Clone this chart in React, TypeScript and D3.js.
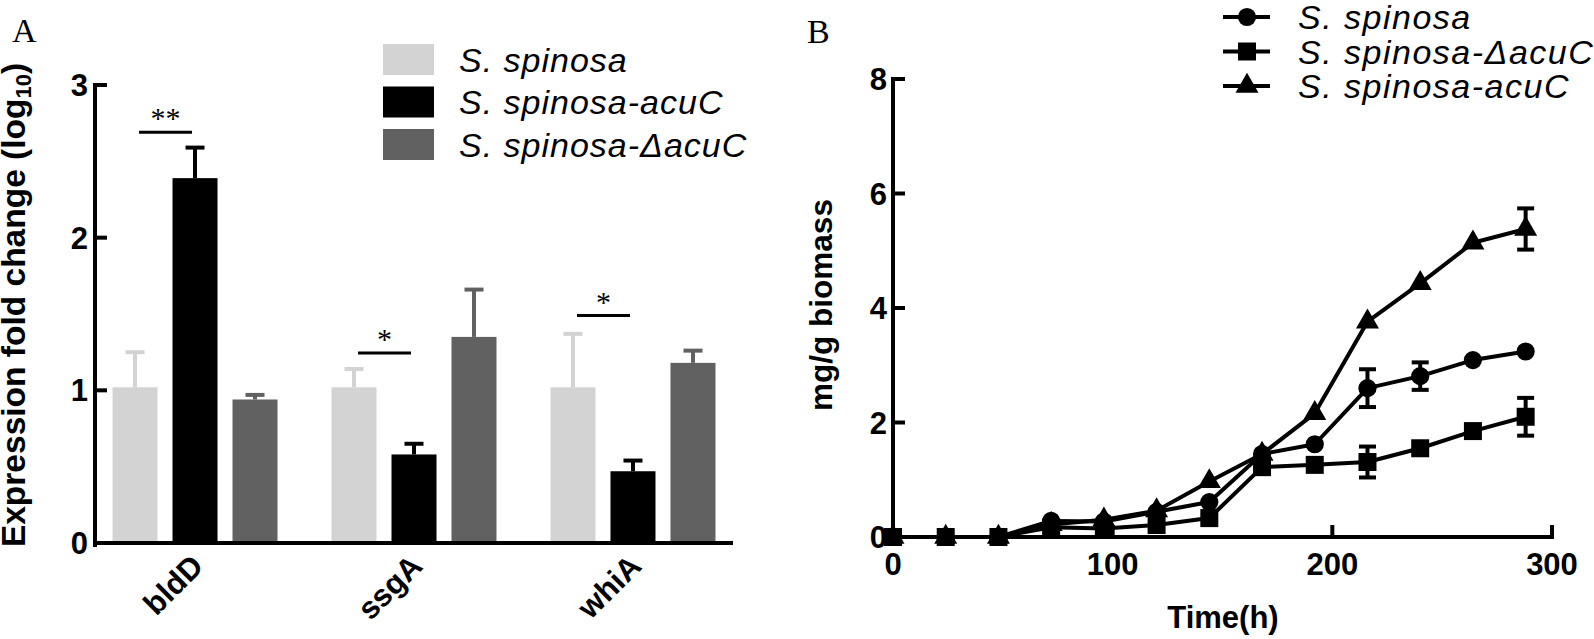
import React from 'react';
import * as d3 from 'd3';

// ---------- Panel A data ----------
const genes = ['bldD', 'ssgA', 'whiA'];
const barSeries = ['S. spinosa', 'S. spinosa-acuC', 'S. spinosa-ΔacuC'];
const barColors = ['#d3d3d3', '#000000', '#616161'];
const wtExpr = [1.02, 1.02, 1.02];
const wtExprErr = [0.23, 0.12, 0.35];
const acuCExpr = [2.39, 0.58, 0.47];
const acuCExprErr = [0.2, 0.07, 0.07];
const dAcuCExpr = [0.94, 1.35, 1.18];
const dAcuCExprErr = [0.03, 0.31, 0.08];
const sigLabels = ['**', '*', '*'];
const sigLevels = [2.69, 1.245, 1.49];
const yTicksA = [0, 1, 2, 3];

// ---------- Panel B data ----------
const timeH = [0, 24, 48, 72, 96, 120, 144, 168, 192, 216, 240, 264, 288];
const wtProd = [0, 0, 0, 0.28, 0.27, 0.44, 0.61, 1.45, 1.62, 2.6, 2.81, 3.09, 3.24];
const wtProdErr = [0, 0, 0, 0.04, 0.04, 0.05, 0.05, 0.05, 0.05, 0.33, 0.24, 0.06, 0.05];
const dProd = [0, 0, 0, 0.17, 0.15, 0.21, 0.33, 1.22, 1.26, 1.31, 1.55, 1.85, 2.1];
const dProdErr = [0, 0, 0, 0.04, 0.04, 0.05, 0.05, 0.06, 0.06, 0.27, 0.05, 0.05, 0.33];
const acuCProd = [0, 0, 0, 0.22, 0.3, 0.46, 0.97, 1.45, 2.16, 3.76, 4.43, 5.14, 5.38];
const acuCProdErr = [0, 0, 0, 0.04, 0.04, 0.05, 0.05, 0.05, 0.06, 0.06, 0.06, 0.06, 0.36];
const lineSeries = ['S. spinosa', 'S. spinosa-ΔacuC', 'S. spinosa-acuC'];
const xTicksB = [0, 100, 200, 300];
const yTicksB = [0, 2, 4, 6, 8];

const SANS = '"Liberation Sans", Arial, sans-serif';
const SERIF = '"Liberation Serif", "Times New Roman", serif';

function PanelA() {
  const y = d3.scaleLinear().domain([0, 3]).range([543, 85]);
  const x0 = d3.scaleBand<string>().domain(genes).range([95, 733]).paddingInner(0.2466).paddingOuter(0.08);
  const x1 = d3.scaleBand<string>().domain(barSeries).range([0, x0.bandwidth()]).paddingInner(0.25);
  const vals = [wtExpr, acuCExpr, dAcuCExpr];
  const errs = [wtExprErr, acuCExprErr, dAcuCExprErr];
  const bw = x1.bandwidth();
  const capW = 19;
  return (
    <g>
      <text x={12} y={42} fontFamily={SERIF} fontSize={34}>A</text>
      {genes.map((g, gi) => (
        <g key={g}>
          {barSeries.map((s, si) => {
            const bx = (x0(g) as number) + (x1(s) as number);
            const v = vals[si][gi];
            const e = errs[si][gi];
            const cx = bx + bw / 2;
            return (
              <g key={s}>
                <line x1={cx} x2={cx} y1={y(v)} y2={y(v + e)} stroke={barColors[si]} strokeWidth={4} />
                <line x1={cx - capW / 2} x2={cx + capW / 2} y1={y(v + e)} y2={y(v + e)} stroke={barColors[si]} strokeWidth={4} />
                <rect x={bx} y={y(v)} width={bw} height={y(0) - y(v)} fill={barColors[si]} />
              </g>
            );
          })}
          {(() => {
            const l = (x0(g) as number) + (x1(barSeries[0]) as number) + bw / 2 + 4;
            const r = (x0(g) as number) + (x1(barSeries[1]) as number) + bw / 2 - 3;
            return (
              <g>
                <line x1={l} x2={r} y1={y(sigLevels[gi])} y2={y(sigLevels[gi])} stroke="#000" strokeWidth={3} />
                <text x={(l + r) / 2} y={y(sigLevels[gi]) - 4} textAnchor="middle" fontFamily={SERIF} fontSize={30}>{sigLabels[gi]}</text>
              </g>
            );
          })()}
          <text
            transform={`translate(${(x0(g) as number) + x0.bandwidth() / 2 + 10},${568}) rotate(-45)`}
            textAnchor="end"
            fontFamily={SANS}
            fontWeight="bold"
            fontSize={31}
          >{g}</text>
        </g>
      ))}
      {/* axes */}
      <line x1={95} x2={95} y1={y(3)} y2={y(0) + 2} stroke="#000" strokeWidth={4} strokeLinecap="square" />
      <line x1={95} x2={733} y1={y(0)} y2={y(0)} stroke="#000" strokeWidth={4} />
      {yTicksA.map(t => (
        <g key={t}>
          <line x1={95} x2={107} y1={y(t)} y2={y(t)} stroke="#000" strokeWidth={4} />
          <text x={88} y={y(t)} dy="0.36em" textAnchor="end" fontFamily={SANS} fontWeight="bold" fontSize={31}>{t}</text>
        </g>
      ))}
      <text transform={`translate(25,${305}) rotate(-90)`} textAnchor="middle" fontFamily={SANS} fontWeight="bold" fontSize={33.5}>
        Expression fold change (log<tspan fontSize={22} dy={6}>10</tspan><tspan dy={-6}>)</tspan>
      </text>
      {/* legend */}
      {barSeries.map((s, i) => (
        <g key={s}>
          <rect x={383} y={44 + i * 42.5} width={51} height={31} fill={barColors[i]} />
          <text x={459} y={59.5 + i * 42.5} dy="0.36em" fontFamily={SANS} fontStyle="italic" fontSize={34} letterSpacing={1}>{s}</text>
        </g>
      ))}
    </g>
  );
}

function Marker({ kind, x, y }: { kind: number; x: number; y: number }) {
  const sym = kind === 0 ? d3.symbolCircle : kind === 1 ? d3.symbolSquare : d3.symbolTriangle;
  const size = kind === 0 ? 260 : kind === 1 ? 324 : 230;
  const p = d3.symbol().type(sym).size(size)() as string;
  return <path d={p} transform={`translate(${x},${y})`} fill="#000" />;
}

function PanelB() {
  const x = d3.scaleLinear().domain([0, 300]).range([893, 1552]);
  const y = d3.scaleLinear().domain([0, 8]).range([537, 79]);
  const vals = [wtProd, dProd, acuCProd];
  const errs = [wtProdErr, dProdErr, acuCProdErr];
  const line = d3.line<number>().x((_, i) => x(timeH[i])).y(v => y(v));
  const order = [2, 0, 1];
  const capW = 17;
  return (
    <g>
      <text x={807} y={43} fontFamily={SERIF} fontSize={34}>B</text>
      {/* axes */}
      <line x1={893} x2={893} y1={y(8)} y2={y(0)} stroke="#000" strokeWidth={4} strokeLinecap="square" />
      <line x1={893} x2={x(300)} y1={y(0)} y2={y(0)} stroke="#000" strokeWidth={4} strokeLinecap="square" />
      {yTicksB.map(t => (
        <g key={t}>
          <line x1={893} x2={905} y1={y(t)} y2={y(t)} stroke="#000" strokeWidth={4} />
          <text x={887} y={y(t)} dy="0.36em" textAnchor="end" fontFamily={SANS} fontWeight="bold" fontSize={31}>{t}</text>
        </g>
      ))}
      {xTicksB.map(t => (
        <g key={t}>
          <line x1={x(t)} x2={x(t)} y1={y(0)} y2={y(0) - 12} stroke="#000" strokeWidth={4} />
          <text x={x(t)} y={575} textAnchor="middle" fontFamily={SANS} fontWeight="bold" fontSize={31}>{t}</text>
        </g>
      ))}
      <text x={1223} y={628} textAnchor="middle" fontFamily={SANS} fontWeight="bold" fontSize={31}>Time(h)</text>
      <text transform={`translate(832,${305}) rotate(-90)`} textAnchor="middle" fontFamily={SANS} fontWeight="bold" fontSize={31.5}>mg/g biomass</text>
      {order.map(si => (
        <g key={si}>
          <path d={line(vals[si]) as string} fill="none" stroke="#000" strokeWidth={4} strokeLinejoin="round" />
          {vals[si].map((v, i) => {
            const e = errs[si][i];
            const cx = x(timeH[i]);
            return e > 0.1 ? (
              <g key={'e' + i}>
                <line x1={cx} x2={cx} y1={y(v - e)} y2={y(v + e)} stroke="#000" strokeWidth={4} />
                <line x1={cx - capW / 2} x2={cx + capW / 2} y1={y(v + e)} y2={y(v + e)} stroke="#000" strokeWidth={4} />
                <line x1={cx - capW / 2} x2={cx + capW / 2} y1={y(v - e)} y2={y(v - e)} stroke="#000" strokeWidth={4} />
              </g>
            ) : null;
          })}
          {vals[si].map((v, i) => (
            <Marker key={i} kind={si} x={x(timeH[i])} y={y(v)} />
          ))}
        </g>
      ))}
      {/* legend */}
      {lineSeries.map((s, i) => (
        <g key={s}>
          <line x1={1223} x2={1270} y1={17 + i * 34.5} y2={17 + i * 34.5} stroke="#000" strokeWidth={4} />
          <Marker kind={i === 0 ? 0 : i === 1 ? 1 : 2} x={1247} y={17 + i * 34.5} />
          <text x={1298} y={17 + i * 34.5} dy="0.36em" fontFamily={SANS} fontStyle="italic" fontSize={34} letterSpacing={1.5}>{s}</text>
        </g>
      ))}
    </g>
  );
}

export default function App() {
  return (
    <svg width={1594} height={639} style={{ position: 'absolute', left: 0, top: 0, background: '#fff' }}>
      <rect x={0} y={0} width={1594} height={639} fill="#fff" />
      <PanelA />
      <PanelB />
    </svg>
  );
}
